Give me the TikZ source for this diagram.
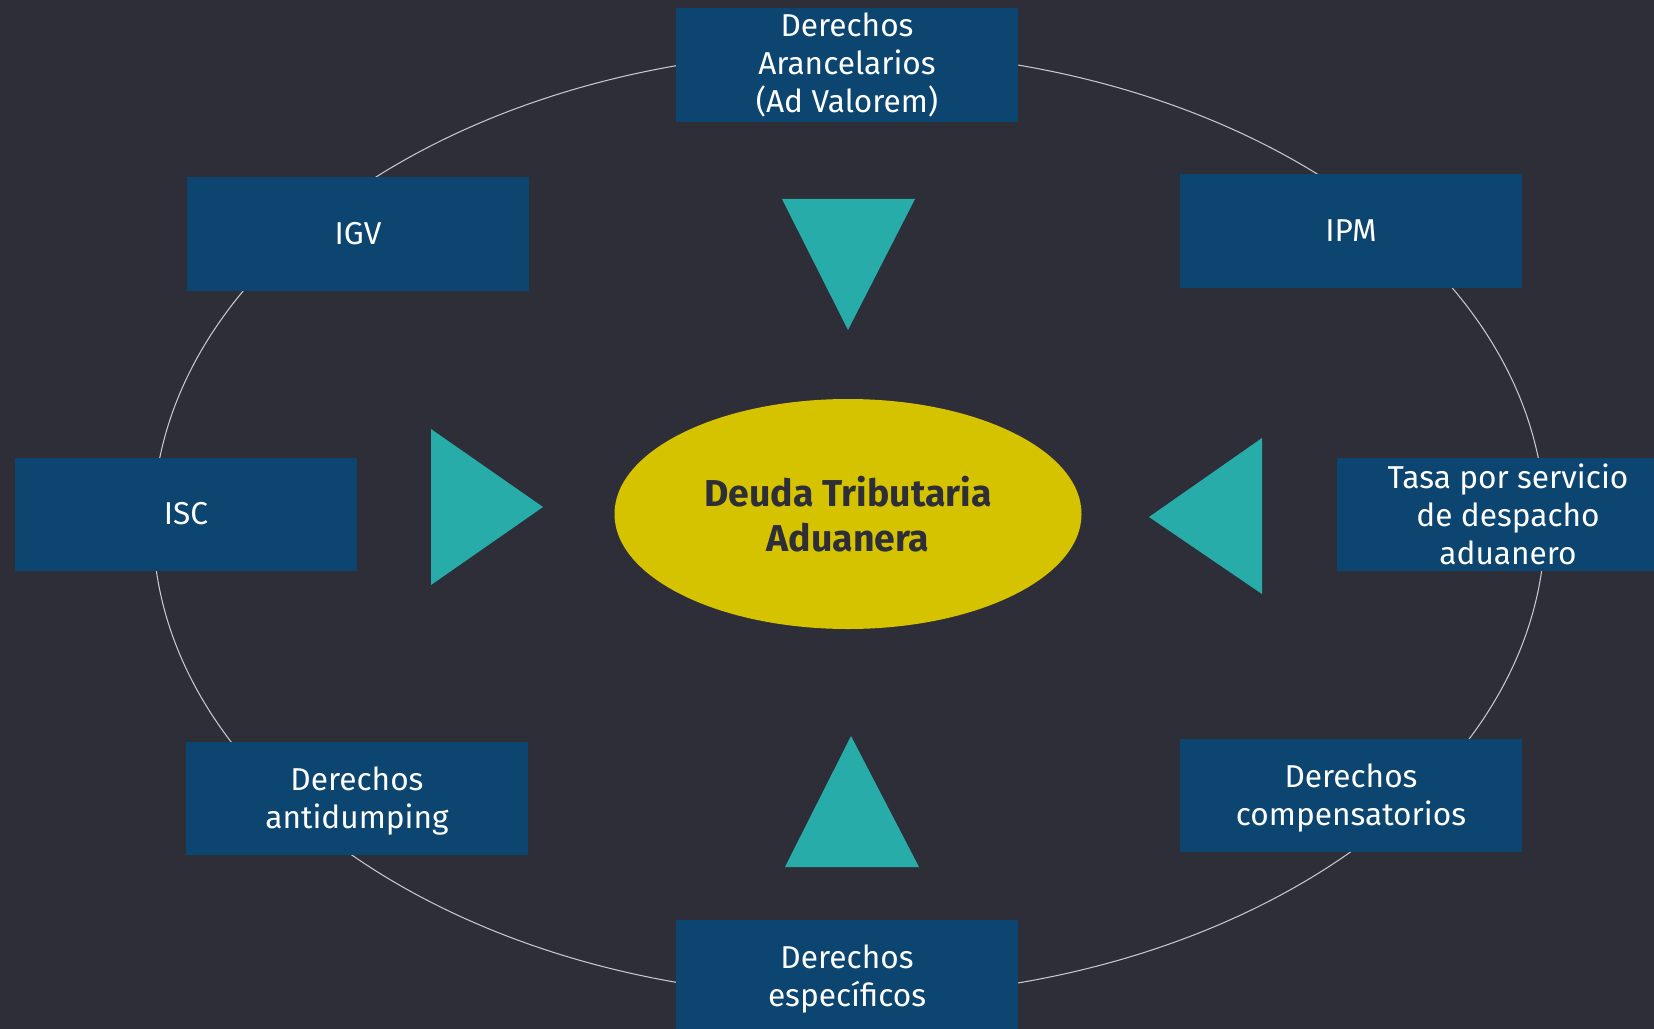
\documentclass[tikz,border=0pt]{standalone}
\usepackage{fontspec}
\setmainfont{Fira Sans}
\usetikzlibrary{shapes.geometric}
\definecolor{bgdark}{HTML}{2E2E38}
\definecolor{boxblue}{HTML}{0C4570}
\definecolor{tealtri}{HTML}{27ACAA}
\definecolor{goldell}{HTML}{D6C300}
\definecolor{ringgray}{HTML}{C8C8CC}
\tikzset{
	taxbox/.style={rectangle, fill=boxblue, text=white, minimum width=68.4mm, minimum height=22.6mm, inner sep=0pt, align=center, font=\fontsize{18}{21.6}\selectfont},
	twoline/.style={text depth=-0.8pt},
	core/.style={ellipse, fill=goldell, text=bgdark, minimum width=93.4mm, minimum height=46mm, inner sep=0pt, align=center, font=\fontsize{21.3}{25.6}\selectfont\bfseries},
	pointer/.style={fill=tealtri},
	ring/.style={draw=ringgray, line width=0.6pt}
}
\begin{document}
\begin{tikzpicture}[x=0.2mm, y=-0.2mm]
		% background
		\fill[bgdark] (0,0) rectangle (1654,1029);
		\useasboundingbox (0,0) rectangle (1654,1029);
		% outer ring
		\draw[ring] (849,524) ellipse [x radius=696, y radius=473];
		% centre
		\node[core] (Deuda) at (848,514) {Deuda Tributaria\\Aduanera};
		% pointers to the centre
		\fill[pointer] (782,199) -- (915,199) -- (848,330) -- cycle;
		\fill[pointer] (431,429) -- (543,507) -- (431,585) -- cycle;
		\fill[pointer] (1262,438) -- (1149,517) -- (1262,594) -- cycle;
		\fill[pointer] (785,867) -- (919,867) -- (851,736) -- cycle;
		% tax boxes
		\node[taxbox] (Arancel) at (847,65) {Derechos\\Arancelarios\\(Ad Valorem)};
		\node[taxbox] (IGV) at (358,234) {IGV};
		\node[taxbox] (IPM) at (1351,231) {IPM};
		\node[taxbox] (ISC) at (186,514) {ISC};
		\node[taxbox] (Tasa) at (1508,514) {Tasa por servicio\\de despacho\\aduanero};
		\node[taxbox, twoline] (Antidumping) at (357,798) {Derechos\\antidumping};
		\node[taxbox, twoline] (Compensa) at (1351,795) {Derechos\\compensatorios};
		\node[taxbox, twoline] (Especificos) at (847,976) {Derechos\\específicos};
\end{tikzpicture}
\end{document}
